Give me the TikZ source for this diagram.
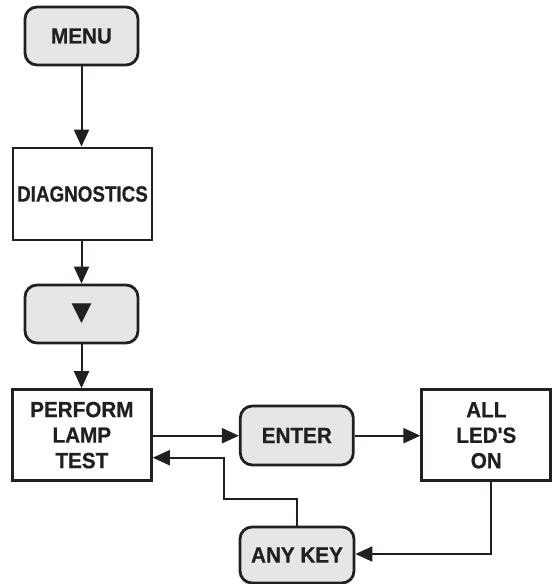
\documentclass[tikz,border=0pt]{standalone}
\usepackage{fontspec}
\usepackage{graphicx}
\newfontfamily\diagfont{Liberation Sans}[FakeStretch=0.94,FakeBold=0.6]
\newfontfamily\symfont{DejaVu Sans}
\usetikzlibrary{arrows.meta}
\definecolor{keygray}{HTML}{E6E6E6}
\definecolor{ink}{HTML}{231F20}
\begin{document}
\begin{tikzpicture}[x=1pt,y=-1pt,
  txt/.style={font=\diagfont\bfseries\fontsize{22}{25.5}\selectfont, align=center, inner sep=0pt, text=ink},
  keybox/.style={txt, draw=ink, line width=2.8pt, fill=keygray, rounded corners=12pt},
  stepbox/.style={txt, draw=ink, line width=2.8pt, fill=white},
  conn/.style={draw=ink, line width=2pt, -{Triangle[length=17pt,width=15pt]}}
]
\useasboundingbox (0,0) rectangle (552,584);
\node[keybox, minimum width=113pt, minimum height=58pt] (menu) at (81.5,36) {MENU};
\node[stepbox, minimum width=139pt, minimum height=92pt] (diag) at (82.5,194) {\scalebox{0.91}[1]{DIAGNOSTICS}};
\node[keybox, minimum width=113pt, minimum height=58pt] (down) at (81.5,314) {\symfont\fontsize{26}{26}\selectfont ▼};
\node[stepbox, minimum width=139pt, minimum height=91pt] (lamp) at (81.85,435.1) {PERFORM\\LAMP\\TEST};
\node[keybox, minimum width=113pt, minimum height=59pt] (enter) at (296.8,435.5) {ENTER};
\node[stepbox, minimum width=129pt, minimum height=91pt] (leds) at (486.3,435.35) {ALL\\LED'S\\ON};
\node[keybox, minimum width=114pt, minimum height=56pt] (any) at (297,555) {ANY KEY};
\coordinate (r1) at (296.5,499.3);
\coordinate (r2) at (224,499.3);
\coordinate (r3) at (224,457.7);
\coordinate (d1) at (490.7,554);
\draw[conn] (menu.south) -- (diag.north -| menu.south);
\draw[conn] (diag.south -| menu.south) -- (down.north);
\draw[conn] (down.south) -- (lamp.north -| down.south);
\draw[conn] (lamp.east |- 0,435.7) -- (enter.west |- 0,435.7);
\draw[conn] (enter.east |- 0,435.7) -- (leds.west |- 0,435.7);
\draw[conn] (any.north -| r1) -- (r1) -- (r2) -- (r3) -- (lamp.east |- r3);
\draw[conn] (leds.south -| d1) -- (d1) -- (any.east |- d1);
\end{tikzpicture}
\end{document}
